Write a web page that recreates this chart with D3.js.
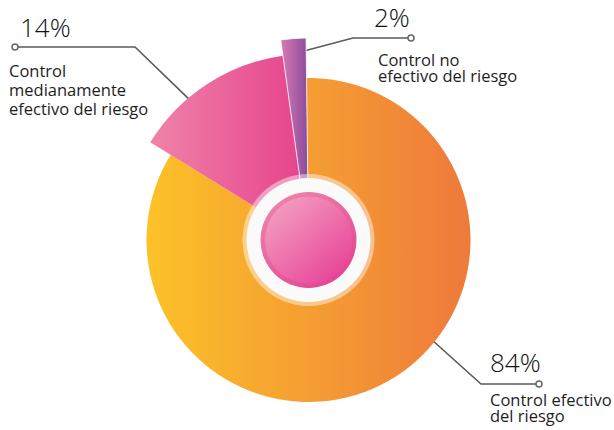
<!DOCTYPE html>
<html>
<head>
<meta charset="utf-8">
<script src="https://cdn.jsdelivr.net/npm/d3@7"></script>
<style>
  html, body { margin: 0; padding: 0; background: #ffffff; }
  svg { display: block; font-family: "Open Sans", "Noto Sans", sans-serif; }
</style>
</head>
<body>
<div id="mainDiv"></div>
<script>
'use strict';

// chart data
var categories = ["Control efectivo del riesgo", "Control medianamente efectivo del riesgo", "Control no efectivo del riesgo"];
var values = [84, 14, 2];
var valueLabels = ["84%", "14%", "2%"];
var labelLines = [["Control efectivo", "del riesgo"], ["Control", "medianamente", "efectivo del riesgo"], ["Control no", "efectivo del riesgo"]];

var myApp = {};

myApp.width = 614;
myApp.height = 430;
myApp.cx = 308.5;
myApp.cy = 240;

// look of each slice (same order as categories)
myApp.radius = [162, 186, 202];
myApp.gradStops = [["#fcc228", "#ee793c"], ["#ef83a9", "#e6418b"], ["#d77cb2", "#8a499b"]];

// where labels and leader lines go
myApp.labels = [
    { angle: 128.8, r: 150, elbow: [481, 384], dot: [539, 384], valueXY: [490, 372], textXY: [490, 406], lh: 15.5 },
    { angle: -40, r: 175, elbow: [135, 47], dot: [15, 47], valueXY: [20, 37], textXY: [9, 77], lh: 19 },
    { angle: -4.3, r: 187, elbow: [353, 38], dot: [411, 38], valueXY: [374, 27], textXY: [378, 66], lh: 16 }
];

myApp.appendSvg = function (element, w, h)
{
    var node = d3.select(element).append("svg")
        .attr("width", w)
        .attr("height", h);
    return node;
}

myApp.addGradients = function (svg)
{
    var defs = svg.append("defs");

    myApp.gradStops.forEach(function (c, i) {
        var g = defs.append("linearGradient")
            .attr("id", "slice" + i)
            .attr("x1", "0").attr("y1", "0")
            .attr("x2", "1").attr("y2", "0");
        g.append("stop").attr("offset", "0").attr("stop-color", c[0]);
        g.append("stop").attr("offset", "1").attr("stop-color", c[1]);
    });

    var rim = defs.append("linearGradient")
        .attr("id", "rim")
        .attr("x1", "0.2").attr("y1", "0.1")
        .attr("x2", "0.8").attr("y2", "0.95");
    rim.append("stop").attr("offset", "0").attr("stop-color", "#ee7fab");
    rim.append("stop").attr("offset", "1").attr("stop-color", "#e4448f");

    var core = defs.append("linearGradient")
        .attr("id", "core")
        .attr("x1", "0.15").attr("y1", "0.1")
        .attr("x2", "0.85").attr("y2", "0.9");
    core.append("stop").attr("offset", "0").attr("stop-color", "#f29bbd");
    core.append("stop").attr("offset", "1").attr("stop-color", "#e8479b");
}

myApp.pointAt = function (angleDeg, r)
{
    var a = angleDeg * Math.PI / 180;
    return [myApp.cx + r * Math.sin(a), myApp.cy - r * Math.cos(a)];
}

myApp.appendLeaders = function (svg)
{
    var g = svg.append("g");
    var line = d3.line();

    myApp.labels.forEach(function (l) {
        var start = myApp.pointAt(l.angle, l.r);
        g.append("path")
            .attr("d", line([start, l.elbow, l.dot]))
            .attr("fill", "none")
            .attr("stroke", "#5a5a5a")
            .attr("stroke-width", 1.6);
        g.append("circle")
            .attr("cx", l.dot[0])
            .attr("cy", l.dot[1])
            .attr("r", 3)
            .attr("fill", "#ffffff")
            .attr("stroke", "#666666")
            .attr("stroke-width", 1.5);
    });
}

myApp.appendPie = function (svg)
{
    var start = -0.7 * Math.PI / 180;
    var pie = d3.pie().sort(null).startAngle(start).endAngle(start + 2 * Math.PI);
    var arcs = pie(values);

    var g = svg.append("g")
        .attr("transform", "translate(" + myApp.cx + "," + myApp.cy + ")");

    g.selectAll("path.slice")
        .data(arcs)
        .enter()
        .append("path")
            .attr("class", "slice")
            .attr("d", function (d, i) {
                return d3.arc().innerRadius(0).outerRadius(myApp.radius[i])(d);
            })
            .attr("fill", function (d, i) { return "url(#slice" + i + ")"; })
            .attr("stroke", function (d, i) { return i == 2 ? "#ffffff" : "none"; })
            .attr("stroke-opacity", 0.8)
            .attr("stroke-width", 1);

    // centre decoration
    g.append("circle").attr("r", 66).attr("fill", "#ffffff").attr("fill-opacity", 0.45);
    g.append("circle").attr("r", 62).attr("fill", "#fafafa");
    g.append("circle").attr("r", 48).attr("fill", "url(#rim)");
    g.append("circle").attr("r", 43.5).attr("fill", "url(#core)");
}

myApp.appendLabels = function (svg)
{
    var g = svg.append("g").attr("fill", "#1e1e1e");

    myApp.labels.forEach(function (l, i) {
        g.append("text")
            .text(valueLabels[i])
            .attr("x", l.valueXY[0])
            .attr("y", l.valueXY[1])
            .attr("font-size", "26px")
            .attr("font-weight", 300)
            .attr("fill", "#111111");

        var t = g.append("text")
            .attr("x", l.textXY[0])
            .attr("y", l.textXY[1])
            .attr("font-size", "16.5px");
        labelLines[i].forEach(function (s, k) {
            t.append("tspan")
                .attr("x", l.textXY[0])
                .attr("y", l.textXY[1] + k * l.lh)
                .text(s);
        });
    });
}

myApp.run = function ()
{
    var svg = myApp.appendSvg("#mainDiv", myApp.width, myApp.height);
    myApp.addGradients(svg);
    myApp.appendLeaders(svg);
    myApp.appendPie(svg);
    myApp.appendLabels(svg);
}

window.onload = myApp.run;
</script>
</body>
</html>
